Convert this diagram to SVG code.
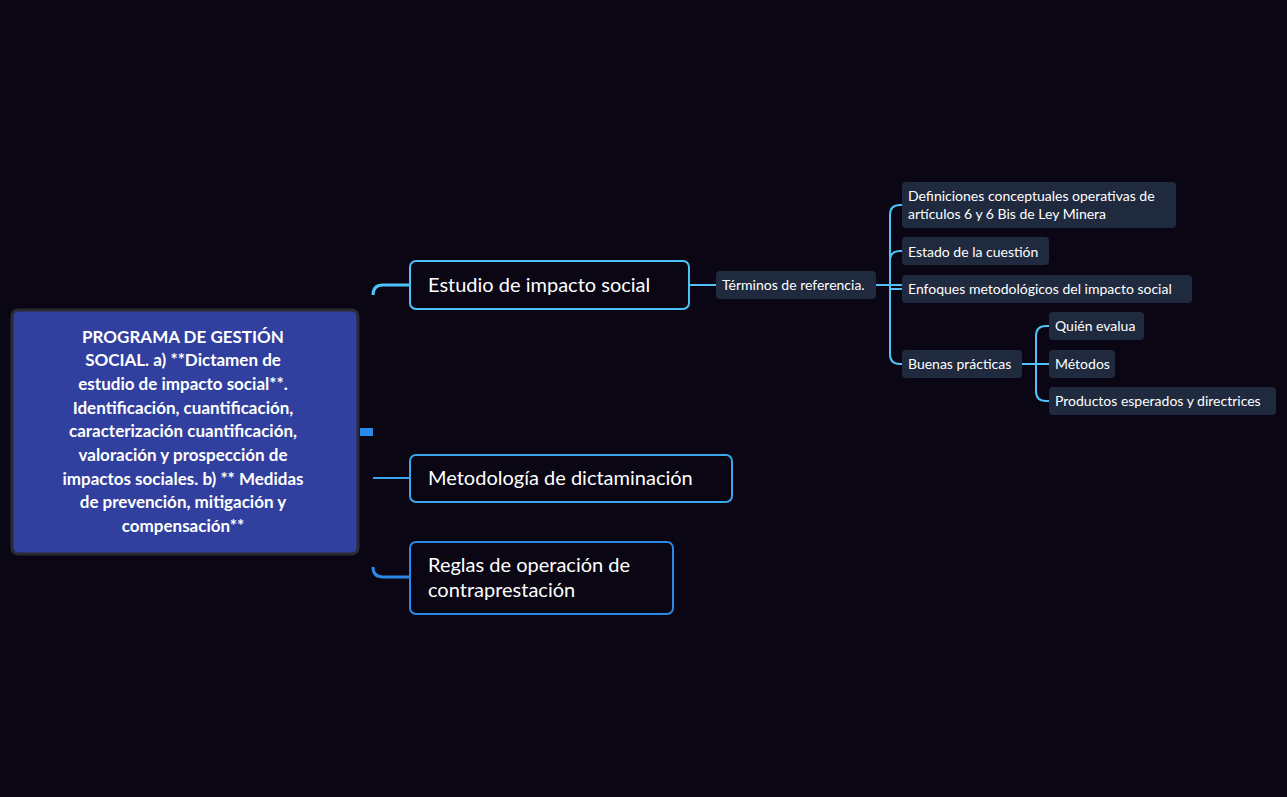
<svg xmlns="http://www.w3.org/2000/svg" width="1287" height="797" viewBox="0 0 1287 797">
<defs>
<linearGradient id="tr" x1="0" y1="0" x2="0" y2="1"><stop offset="0" stop-color="#4fc3f7"/><stop offset="0.5" stop-color="#4fc3f7"/><stop offset="0.52" stop-color="#2a88e6"/><stop offset="1" stop-color="#2a88e6"/></linearGradient>
</defs>
<style>
text{font-family:Lato,"Noto Sans",sans-serif;fill:#fff}
.root{font-weight:bold;font-size:17px;text-anchor:middle}
.l1{font-size:20px}
.sm{font-size:14px}
.b{fill:#0a0614;stroke-width:2}
.c{fill:#1f2a3f}
.ln{fill:none;stroke:#4fc3f7;stroke-width:2}
</style>
<rect width="1287" height="797" fill="#0a0614"/>
<g id="connectors">
<path d="M360 432H373" stroke="#2a88e6" stroke-width="8" fill="none"/>
<path d="M373 295Q373 285 383 285H410" stroke="#4fc3f7" stroke-width="3" fill="none"/>
<path d="M373 478H410" stroke="#3aa6ee" stroke-width="2" fill="none"/>
<path d="M373 567Q373 577 383 577H410" stroke="#2a88e6" stroke-width="3" fill="none"/>
<path d="M373 292V570" stroke="url(#tr)" stroke-width="7" fill="none"/>
<path class="ln" d="M689 285H716"/>
<path class="ln" d="M876 285H902M900 205Q890 205 890 215V354Q890 364 900 364H902M900 205H902M890 261Q890 251 900 251H902M890 289H902"/>
<path class="ln" d="M1022 364H1049M1046 326Q1036 326 1036 336V391Q1036 401 1046 401H1049M1036 364H1049M1046 326H1049"/>
</g>
<g id="root"><rect x="12" y="310" width="346" height="244" rx="6" fill="#313f9f" stroke="#2b2b33" stroke-width="3"/>
<text class="root"><tspan x="183" y="343">PROGRAMA DE GESTIÓN</tspan><tspan x="183" y="366">SOCIAL. a) **Dictamen de</tspan><tspan x="183" y="390">estudio de impacto social**.</tspan><tspan x="183" y="414">Identificación, cuantificación,</tspan><tspan x="183" y="437">caracterización cuantificación,</tspan><tspan x="183" y="461">valoración y prospección de</tspan><tspan x="183" y="485">impactos sociales. b) ** Medidas</tspan><tspan x="183" y="508">de prevención, mitigación y</tspan><tspan x="183" y="532">compensación**</tspan></text></g>
<g id="n1"><rect class="b" x="410" y="261" width="279" height="48" rx="6" stroke="#4fc3f7"/><text class="l1" x="428" y="292">Estudio de impacto social</text></g>
<g id="n2"><rect class="b" x="410" y="455" width="322" height="47" rx="6" stroke="#3aa6ee"/><text class="l1" x="428" y="485">Metodología de dictaminación</text></g>
<g id="n3"><rect class="b" x="410" y="542" width="263" height="72" rx="6" stroke="#2a88e6"/><text class="l1" x="428" y="572">Reglas de operación de</text><text class="l1" x="428" y="597">contraprestación</text></g>
<g id="n4"><rect class="c" x="716" y="271" width="160" height="28" rx="4"/><text class="sm" x="722" y="290">Términos de referencia.</text></g>
<g id="n5"><rect class="c" x="902" y="182" width="274" height="46" rx="4"/><text class="sm" x="908" y="201">Definiciones conceptuales operativas de</text><text class="sm" x="908" y="219">artículos 6 y 6 Bis de Ley Minera</text></g>
<g id="n6"><rect class="c" x="902" y="237" width="147" height="28" rx="4"/><text class="sm" x="908" y="257">Estado de la cuestión</text></g>
<g id="n7"><rect class="c" x="902" y="275" width="290" height="28" rx="4"/><text class="sm" x="908" y="294">Enfoques metodológicos del impacto social</text></g>
<g id="n8"><rect class="c" x="902" y="350" width="120" height="28" rx="4"/><text class="sm" x="908" y="369">Buenas prácticas</text></g>
<g id="n9"><rect class="c" x="1049" y="312" width="95" height="28" rx="4"/><text class="sm" x="1055" y="331">Quién evalua</text></g>
<g id="n10"><rect class="c" x="1049" y="350" width="66" height="28" rx="4"/><text class="sm" x="1055" y="369">Métodos</text></g>
<g id="n11"><rect class="c" x="1049" y="387" width="227" height="28" rx="4"/><text class="sm" x="1055" y="406">Productos esperados y directrices</text></g>
</svg>
